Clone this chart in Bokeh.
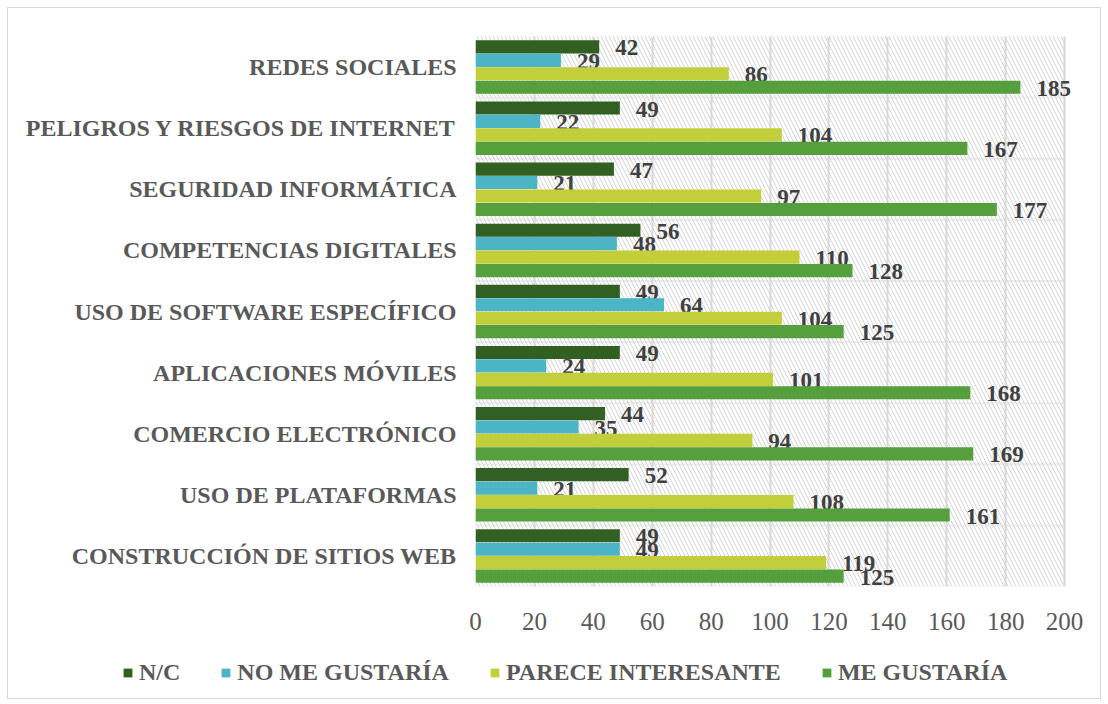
from bokeh.plotting import figure
from bokeh.layouts import column
from bokeh.models import ColumnDataSource, FactorRange, Range1d, BoxAnnotation, Legend, LegendItem, SingleIntervalTicker
from bokeh.transform import dodge
from bokeh.core.properties import value
from bokeh.embed import file_html
from bokeh.resources import INLINE

categories = [
    "REDES SOCIALES",
    "PELIGROS Y RIESGOS DE INTERNET",
    "SEGURIDAD INFORMÁTICA",
    "COMPETENCIAS DIGITALES",
    "USO DE SOFTWARE ESPECÍFICO",
    "APLICACIONES MÓVILES",
    "COMERCIO ELECTRÓNICO",
    "USO DE PLATAFORMAS",
    "CONSTRUCCIÓN DE SITIOS WEB",
]
nc = [42, 49, 47, 56, 49, 49, 44, 52, 49]
no_me_gustaria = [29, 22, 21, 48, 64, 24, 35, 21, 49]
parece_interesante = [86, 104, 97, 110, 104, 101, 94, 108, 119]
me_gustaria = [185, 167, 177, 128, 125, 168, 169, 161, 125]

series_names = ["N/C", "NO ME GUSTARÍA", "PARECE INTERESANTE", "ME GUSTARÍA"]
series_keys = ["nc", "no", "pi", "mg"]
series_values = [nc, no_me_gustaria, parece_interesante, me_gustaria]
colors = ["#325F22", "#4BB5C6", "#C3CF3A", "#55A03C"]
offsets = [0.33, 0.11, -0.11, -0.33]

AXIS_MAX = 200

data = {"cat": categories}
for k, v in zip(series_keys, series_values):
    data[k] = v
    data[k + "_s"] = [str(x) for x in v]
source = ColumnDataSource(data)

FONT = "Liberation Serif"

# frame: 0..200 spans 589px; extra room on the right so that labels are not clipped
p = figure(
    width=1092, height=640,
    y_range=FactorRange(factors=list(reversed(categories)), range_padding=0),
    x_range=Range1d(0, 212.2),
    output_backend="svg", toolbar_location=None,
    min_border_left=467, min_border_right=0, min_border_top=28, min_border_bottom=62,
)
p.frame_align = False
p.outline_line_color = None

# hatched plot area, one box per category band (draws the band borders too)
for k in range(len(categories)):
    p.add_layout(BoxAnnotation(left=0, right=AXIS_MAX, bottom=k, top=k + 1,
                               fill_alpha=0, line_color="#d9d9d9", line_width=2,
                               hatch_pattern="\\", hatch_color="#d4d4d4",
                               hatch_scale=8, hatch_weight=1, level="underlay"))

p.xgrid.grid_line_color = "#d9d9d9"
p.xgrid.grid_line_width = 2
p.ygrid.grid_line_color = None

for key, name, col, off in zip(series_keys, series_names, colors, offsets):
    p.hbar(y=dodge("cat", off, range=p.y_range), right=key, left=0, height=0.215,
           source=source, fill_color=col, line_color=None)
    p.text(x=key, y=dodge("cat", off, range=p.y_range), text=key + "_s", source=source,
           x_offset=16, y_offset=1, text_align="left", text_baseline="middle",
           text_font=value(FONT), text_font_style="bold", text_font_size="23px",
           text_color="#404040")

p.xaxis.ticker = SingleIntervalTicker(interval=20)
p.xaxis.axis_line_color = None
p.xaxis.major_tick_line_color = None
p.xaxis.minor_tick_line_color = None
p.xaxis.major_label_text_font = FONT
p.xaxis.major_label_text_font_size = "25px"
p.xaxis.major_label_text_color = "#595959"
p.xaxis.major_label_standoff = 20

p.yaxis.axis_line_color = None
p.yaxis.major_tick_line_color = None
p.yaxis.minor_tick_line_color = None
p.yaxis.major_label_text_font = FONT
p.yaxis.major_label_text_font_style = "bold"
p.yaxis.major_label_text_font_size = "24px"
p.yaxis.major_label_text_color = "#595959"
p.yaxis.major_label_standoff = 13

# legend strip
leg = figure(width=1092, height=50, x_range=Range1d(0, 1), y_range=Range1d(0, 1),
             output_backend="svg", toolbar_location=None,
             min_border=0, min_border_left=0, min_border_right=0, min_border_top=0, min_border_bottom=0)
leg.frame_align = False
leg.axis.visible = False
leg.grid.visible = False
leg.outline_line_color = None
dummy = []
for col in colors:
    # zero-size proxy glyphs, only used to draw the legend swatches
    dummy.append(leg.hbar(y=[0.5], right=[0], left=[0], height=0, fill_color=col, line_color=None))

legend = Legend(
    items=[LegendItem(label=n, renderers=[r]) for n, r in zip(series_names, dummy)],
    orientation="horizontal", location=(114, 12),
    glyph_width=11, glyph_height=11, label_standoff=6, spacing=40,
    padding=0, margin=0, border_line_color=None, background_fill_alpha=0,
    label_text_font=FONT, label_text_font_style="bold", label_text_font_size="24px",
    label_text_color="#595959",
)
leg.add_layout(legend, "center")

layout = column(p, leg, spacing=0,
                styles={"border": "1.5px solid #d9d9d9", "margin-left": "7px", "margin-top": "7px"})

open("out.html", "w").write(file_html(layout, INLINE))
